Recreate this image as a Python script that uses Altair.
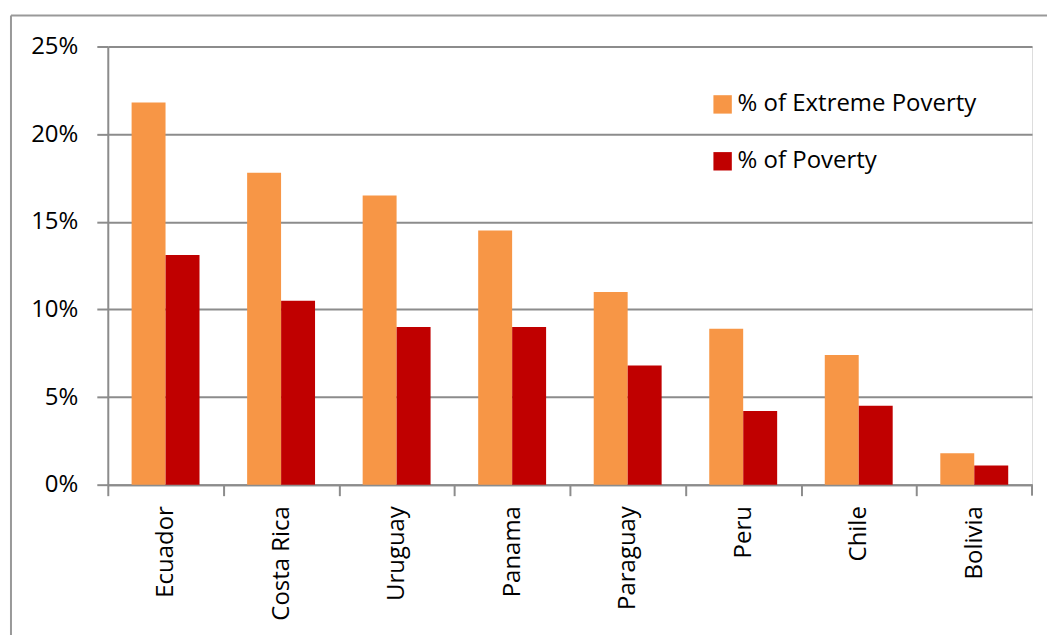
import altair as alt
import pandas as pd

countries = ["Ecuador", "Costa Rica", "Uruguay", "Panama", "Paraguay", "Peru", "Chile", "Bolivia"]
extreme = [21.8, 17.8, 16.5, 14.5, 11.0, 8.9, 7.4, 1.8]
poverty = [13.1, 10.5, 9.0, 9.0, 6.8, 4.2, 4.5, 1.1]
series = ["% of Extreme Poverty", "% of Poverty"]
colors = ["#F79646", "#C00000"]
y_ticks = [0, 0.05, 0.10, 0.15, 0.20, 0.25]

rows = []
for c, e, p in zip(countries, extreme, poverty):
    rows.append({"country": c, "series": series[0], "value": e / 100})
    rows.append({"country": c, "series": series[1], "value": p / 100})
df = pd.DataFrame(rows)

W, H = 926, 439
STEP = W / len(countries)
FONT = "Open Sans"
GRID = "#8C8C8C"
FS = 24

bars = alt.Chart(df).mark_bar(size=34).encode(
    x=alt.X("country:N", sort=countries, title=None,
            scale=alt.Scale(paddingInner=0, paddingOuter=0),
            axis=alt.Axis(labelAngle=-90, labelFontSize=FS, labelFont=FONT, labelColor="#000000",
                          tickOffset=-STEP / 2, labelOffset=STEP / 2, tickSize=11, tickColor=GRID,
                          tickWidth=2, domainColor=GRID, domainWidth=2, labelPadding=10, grid=False,
                          labelLimit=0)),
    xOffset=alt.XOffset("series:N", sort=series,
                        scale=alt.Scale(paddingInner=0, paddingOuter=0.7)),
    y=alt.Y("value:Q", title=None,
            scale=alt.Scale(domain=[0, 0.25], nice=False),
            axis=alt.Axis(values=y_ticks, format=".0%", labelFontSize=FS, labelFont=FONT,
                          labelColor="#000000", tickSize=11, tickColor=GRID, tickWidth=2,
                          domainColor=GRID, domainWidth=2, gridColor=GRID, gridWidth=2,
                          labelPadding=19)),
    color=alt.Color("series:N", sort=series,
                    scale=alt.Scale(domain=series, range=colors),
                    legend=alt.Legend(title=None, orient="none", legendX=604, legendY=46,
                                      symbolType="square", symbolSize=340, symbolStrokeWidth=0,
                                      symbolOpacity=1, labelFontSize=FS, labelFont=FONT,
                                      labelColor="#000000", rowPadding=33, labelOffset=3,
                                      labelLimit=0)),
)

one = pd.DataFrame({"a": [0]})
frame_left = alt.Chart(one).mark_rule(color="#999999", strokeWidth=2).encode(
    x=alt.value(-97), y=alt.value(-31), y2=alt.value(H + 151))
frame_top = alt.Chart(one).mark_rule(color="#999999", strokeWidth=2).encode(
    x=alt.value(-97), x2=alt.value(W + 15), y=alt.value(-31))
last_tick = alt.Chart(one).mark_rule(color=GRID, strokeWidth=2).encode(
    x=alt.value(W), y=alt.value(H), y2=alt.value(H + 11))

chart = alt.layer(frame_left, frame_top, bars, last_tick).properties(
    width=W, height=H,
    padding={"left": 10, "top": 14, "right": 0, "bottom": 0},
).configure_view(stroke=None).configure(background="white")

chart.save("out.html", embed_options={"renderer": "svg", "actions": False})
